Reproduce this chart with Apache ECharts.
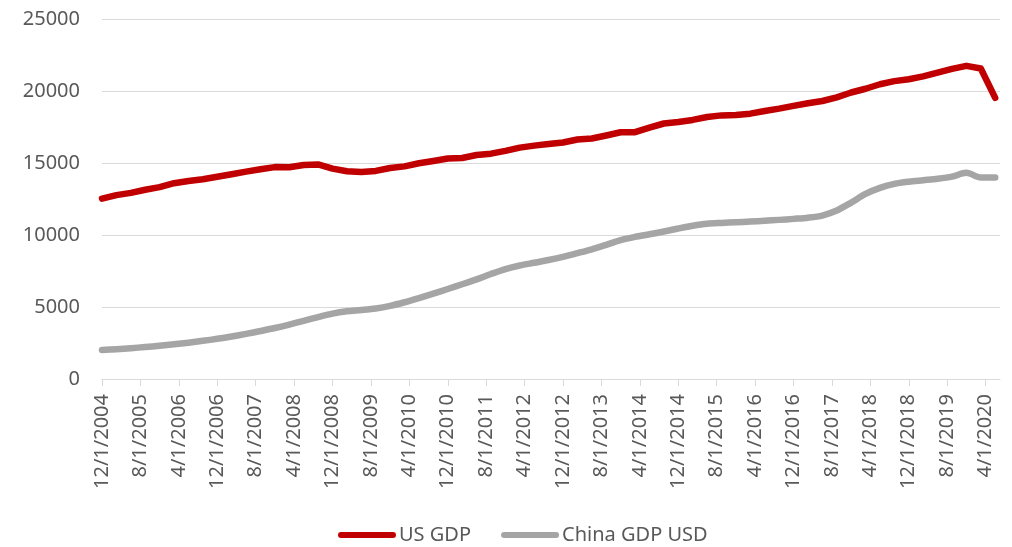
<!DOCTYPE html>
<html>
<head>
<meta charset="utf-8">
<title>US GDP vs China GDP USD</title>
<script src="https://cdn.jsdelivr.net/npm/echarts@6/dist/echarts.min.js"></script>
<style>
  html, body { margin: 0; padding: 0; background: #ffffff; }
  #chart { width: 1012px; height: 547px; }
</style>
</head>
<body>
<div id="chart"></div>
<script>
// Monthly date axis: 12/1/2004 through 7/1/2020
const startYear = 2004;
const startMonth = 12;
const monthCount = 188;

// Quarterly observations (billions USD), first one at 12/1/2004, every 3 months
const usGdp = [
  12527, 12767, 12923, 13143, 13324, 13599, 13753, 13870, 14040, 14216,
  14402, 14564, 14715, 14707, 14866, 14899, 14608, 14431, 14381, 14449,
  14651, 14765, 14980, 15142, 15310, 15351, 15558, 15648, 15842, 16069,
  16207, 16320, 16420, 16629, 16700, 16911, 17133, 17144, 17463, 17743,
  17853, 17991, 18194, 18307, 18332, 18425, 18612, 18776, 18968, 19148,
  19305, 19562, 19895, 20156, 20470, 20687, 20819, 21013, 21272, 21532,
  21747, 21561, 19520
];
const chinaGdpUsd = [
  2010, 2070, 2140, 2220, 2310, 2410, 2520, 2650, 2790, 2950,
  3130, 3330, 3540, 3780, 4040, 4300, 4540, 4700, 4790, 4900,
  5080, 5330, 5620, 5930, 6250, 6580, 6920, 7290, 7630, 7880,
  8070, 8260, 8480, 8740, 9010, 9320, 9640, 9870, 10050, 10240,
  10450, 10640, 10780, 10840, 10890, 10930, 10990, 11050, 11120, 11200,
  11350, 11700, 12250, 12850, 13270, 13550, 13700, 13800, 13900, 14050,
  14320, 14000, 14000
];
const quarterStep = 3;

const yTicks = { min: 0, max: 25000, interval: 5000 };

// Category labels in M/D/YYYY form
const categories = [];
for (let i = 0; i < monthCount; i++) {
  const m0 = startMonth - 1 + i;
  const y = startYear + Math.floor(m0 / 12);
  const m = (m0 % 12) + 1;
  categories.push(m + '/1/' + y);
}

// Spread quarterly values onto the monthly axis
function onMonthly(values) {
  const out = new Array(monthCount).fill(null);
  values.forEach((v, k) => { out[k * quarterStep] = v; });
  return out;
}

const textColor = '#595959';
const gridColor = '#d9d9d9';
const fontFamily = '"Noto Sans", "Liberation Sans", sans-serif';
const capsule = 'path://M3,0 L55,0 A3,3 0 0 1 55,6 L3,6 A3,3 0 0 1 3,0 Z';

const chart = echarts.init(document.getElementById('chart'), null, { renderer: 'canvas' });
chart.setOption({
  animation: false,
  backgroundColor: '#ffffff',
  textStyle: { fontFamily: fontFamily },
  grid: { left: 102, right: 12, top: 19, bottom: 168, containLabel: false },
  legend: {
    left: 333,
    top: 520,
    itemWidth: 58,
    itemHeight: 6,
    itemGap: 30,
    textStyle: { color: textColor, fontSize: 20, fontFamily: fontFamily, padding: [0, 0, 0, -2] },
    data: [
      { name: 'US GDP', icon: capsule },
      { name: 'China GDP USD', icon: capsule }
    ]
  },
  xAxis: {
    type: 'category',
    data: categories,
    boundaryGap: false,
    axisLine: { lineStyle: { color: gridColor, width: 1 } },
    axisTick: { show: true, interval: 7, length: 7, lineStyle: { color: gridColor } },
    axisLabel: {
      interval: 7,
      rotate: 90,
      margin: 15,
      color: textColor,
      fontSize: 20,
      fontFamily: fontFamily
    },
    splitLine: { show: false }
  },
  yAxis: {
    type: 'value',
    min: yTicks.min,
    max: yTicks.max,
    interval: yTicks.interval,
    axisLine: { show: false },
    axisTick: { show: false },
    axisLabel: {
      color: textColor,
      fontSize: 20,
      fontFamily: fontFamily,
      margin: 22,
      formatter: (v) => String(v)
    },
    splitLine: { lineStyle: { color: gridColor, width: 1 } }
  },
  series: [
    {
      name: 'US GDP',
      type: 'line',
      data: onMonthly(usGdp),
      connectNulls: true,
      showSymbol: false,
      symbol: 'none',
      itemStyle: { color: '#c00000' },
      lineStyle: { color: '#c00000', width: 6.5, cap: 'round', join: 'round' },
      z: 3
    },
    {
      name: 'China GDP USD',
      type: 'line',
      data: onMonthly(chinaGdpUsd),
      connectNulls: true,
      smooth: 0.3,
      showSymbol: false,
      symbol: 'none',
      itemStyle: { color: '#a5a5a5' },
      lineStyle: { color: '#a5a5a5', width: 6.5, cap: 'round', join: 'round' },
      z: 2
    }
  ]
});
</script>
</body>
</html>
